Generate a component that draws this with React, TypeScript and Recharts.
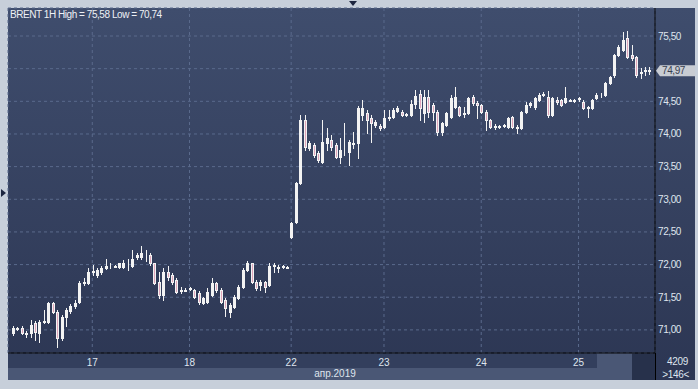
import React from 'react';
import { ComposedChart, Bar, XAxis, YAxis, CartesianGrid, ReferenceLine } from 'recharts';

const opens = [
  70.95, 71.03, 71.03, 70.95, 70.95, 71.11, 70.95, 71.12, 71.12, 71.41,
  71.28, 70.88, 71.20, 71.29, 71.37, 71.43, 71.72, 71.72, 71.89, 71.84,
  71.89, 71.95, 71.98, 71.98, 71.97, 71.97, 72.03, 71.98, 72.11, 72.12,
  72.15, 72.14, 72.02, 71.73, 71.53, 71.89, 71.84, 71.76, 71.61, 71.60,
  71.63, 71.61, 71.56, 71.41, 71.43, 71.53, 71.72, 71.61, 71.46, 71.28,
  71.35, 71.49, 71.66, 71.92, 72.02, 71.73, 71.69, 71.73, 71.69, 71.98,
  71.97, 71.97, 71.97, 72.42, 72.65, 73.25, 74.21, 73.78, 73.83, 73.71,
  73.57, 73.86, 73.91, 73.83, 73.65, 73.76, 73.72, 73.85, 73.86, 74.29,
  74.32, 74.24, 74.14, 74.12, 74.11, 74.25, 74.26, 74.35, 74.34, 74.30,
  74.29, 74.46, 74.61, 74.32, 74.57, 74.44, 74.34, 74.03, 74.14, 74.26,
  74.41, 74.41, 74.31, 74.32, 74.57, 74.47, 74.44, 74.34, 74.21, 74.12,
  74.11, 74.12, 74.11, 74.26, 74.10, 74.09, 74.34, 74.45, 74.41, 74.52,
  74.60, 74.57, 74.29, 74.52, 74.52, 74.49, 74.51, 74.52, 74.53, 74.49,
  74.40, 74.40, 74.55, 74.59, 74.60, 74.78, 74.90, 75.21, 75.29, 75.47,
  75.21, 75.18, 74.94, 74.97, 74.98,
];

const highs = [
  71.06, 71.05, 71.06, 70.98, 71.15, 71.14, 71.15, 71.31, 71.43, 71.43,
  71.31, 71.23, 71.34, 71.40, 71.46, 71.75, 71.80, 71.95, 71.99, 71.95,
  71.98, 72.09, 72.02, 72.00, 72.03, 72.07, 72.09, 72.22, 72.17, 72.28,
  72.22, 72.17, 72.03, 71.89, 71.95, 71.98, 71.87, 71.80, 71.66, 71.64,
  71.66, 71.63, 71.59, 71.50, 71.64, 71.80, 71.73, 71.64, 71.49, 71.41,
  71.53, 71.69, 71.95, 72.06, 72.03, 71.76, 71.76, 71.75, 72.02, 72.02,
  72.00, 72.00, 71.98, 72.65, 73.26, 74.29, 74.29, 73.89, 73.86, 73.74,
  74.21, 74.09, 73.98, 73.86, 73.94, 74.17, 73.91, 74.03, 74.43, 74.52,
  74.37, 74.29, 74.21, 74.15, 74.37, 74.37, 74.40, 74.43, 74.37, 74.32,
  74.52, 74.67, 74.67, 74.67, 74.67, 74.47, 74.37, 74.18, 74.34, 74.60,
  74.72, 74.43, 74.41, 74.57, 74.59, 74.50, 74.46, 74.36, 74.23, 74.15,
  74.14, 74.16, 74.26, 74.27, 74.14, 74.35, 74.49, 74.49, 74.57, 74.63,
  74.64, 74.66, 74.57, 74.56, 74.54, 74.72, 74.54, 74.54, 74.57, 74.52,
  74.43, 74.54, 74.63, 74.62, 74.80, 74.89, 75.23, 75.36, 75.56, 75.58,
  75.36, 75.20, 75.01, 75.03, 75.03,
];

const lows = [
  70.92, 71.00, 70.94, 70.89, 70.89, 70.85, 70.82, 71.11, 71.11, 71.26,
  70.74, 70.85, 71.06, 71.26, 71.34, 71.41, 71.69, 71.70, 71.84, 71.81,
  71.86, 71.93, 71.95, 71.96, 71.95, 71.95, 71.92, 71.97, 72.08, 72.09,
  72.06, 72.00, 71.70, 71.49, 71.46, 71.76, 71.70, 71.56, 71.56, 71.59,
  71.61, 71.49, 71.40, 71.40, 71.41, 71.52, 71.58, 71.41, 71.21, 71.20,
  71.34, 71.47, 71.64, 71.90, 71.72, 71.61, 71.61, 71.58, 71.67, 71.89,
  71.89, 71.95, 71.95, 72.41, 72.64, 73.24, 73.75, 73.75, 73.65, 73.57,
  73.55, 73.75, 73.75, 73.63, 73.55, 73.68, 73.52, 73.78, 73.63, 74.21,
  74.01, 73.88, 74.11, 74.06, 74.09, 74.21, 74.24, 74.34, 74.28, 74.28,
  74.28, 74.40, 74.21, 74.18, 74.26, 74.21, 73.98, 73.99, 74.12, 74.24,
  74.40, 74.27, 74.26, 74.30, 74.45, 74.24, 74.32, 74.06, 74.09, 74.08,
  74.09, 74.10, 74.09, 74.09, 74.02, 74.08, 74.32, 74.42, 74.39, 74.50,
  74.58, 74.26, 74.27, 74.46, 74.43, 74.47, 74.50, 74.49, 74.51, 74.38,
  74.26, 74.38, 74.53, 74.57, 74.58, 74.76, 74.88, 75.19, 75.27, 75.16,
  75.14, 74.88, 74.86, 74.90, 74.92,
];

const closes = [
  71.03, 71.02, 70.95, 70.94, 71.08, 70.97, 71.12, 71.14, 71.41, 71.28,
  70.88, 71.20, 71.31, 71.37, 71.41, 71.72, 71.73, 71.89, 71.90, 71.92,
  71.94, 71.98, 71.98, 71.97, 72.02, 72.03, 72.02, 72.09, 72.14, 72.17,
  72.14, 72.02, 71.72, 71.53, 71.89, 71.81, 71.73, 71.58, 71.60, 71.61,
  71.64, 71.50, 71.43, 71.49, 71.58, 71.72, 71.61, 71.43, 71.34, 71.38,
  71.50, 71.66, 71.92, 72.02, 71.73, 71.64, 71.73, 71.66, 71.98, 71.99,
  71.95, 71.98, 71.95, 72.64, 73.25, 74.21, 73.80, 73.86, 73.68, 73.60,
  73.88, 73.94, 73.80, 73.65, 73.75, 73.75, 73.88, 73.86, 74.40, 74.40,
  74.21, 74.17, 74.18, 74.09, 74.24, 74.26, 74.37, 74.40, 74.29, 74.29,
  74.46, 74.58, 74.40, 74.57, 74.34, 74.34, 74.03, 74.17, 74.32, 74.55,
  74.57, 74.29, 74.32, 74.55, 74.47, 74.44, 74.34, 74.21, 74.11, 74.11,
  74.12, 74.13, 74.24, 74.11, 74.09, 74.34, 74.44, 74.47, 74.55, 74.60,
  74.61, 74.29, 74.55, 74.49, 74.44, 74.55, 74.52, 74.51, 74.55, 74.40,
  74.41, 74.52, 74.60, 74.60, 74.78, 74.87, 75.21, 75.33, 75.44, 75.18,
  75.16, 74.90, 74.95, 74.98, 74.97,
];

const dayTickIndex = [18, 40, 63, 84, 106, 128];
const dayLabels = ['17', '18', '22', '23', '24', '25'];
const priceTicks = [71, 71.5, 72, 72.5, 73, 73.5, 74, 74.5, 75, 75.5];
const lastPrice = 74.97;
const titleText = 'BRENT 1H High = 75,58 Low = 70,74';
const monthLabel = 'апр.2019';
const infoTop = '4209';
const infoBottom = '>146<';

const FONT = '"Liberation Sans", Arial, sans-serif';
const TEXT = '#dfe5ee';
const WICK = '#f3f3f3';
const BEAR = '#e0a5bb';

const data = opens.map((o, i) => ({
  i,
  open: o,
  high: highs[i],
  low: lows[i],
  close: closes[i],
  range: [lows[i], highs[i]],
}));

const fmt = (v: number) => v.toFixed(2).replace('.', ',');

const Candle = (props: any) => {
  const { x, y, width, height, payload } = props;
  if (x == null || y == null) return null;
  const { open, close, high, low } = payload;
  const top = Math.min(y, y + height);
  const h = Math.abs(height);
  const span = high - low;
  const ppu = span > 0 ? h / span : 0;
  const cx = Math.round(x + width / 2) + 0.5;
  const yO = top + (high - open) * ppu;
  const yC = top + (high - close) * ppu;
  const bTop = Math.round(Math.min(yO, yC)) + 0.5;
  const bBot = Math.round(Math.max(yO, yC)) + 0.5;
  const up = close >= open;
  return (
    <g>
      <line x1={cx} x2={cx} y1={Math.round(top)} y2={Math.round(top + h) + 1} stroke={WICK} strokeWidth={1} />
      <rect x={cx - 1} y={bTop} width={2} height={Math.max(bBot - bTop, 0)} fill={up ? 'none' : BEAR} stroke={WICK} strokeWidth={1} />
    </g>
  );
};

const YTick = (props: any) => {
  const { x, y, payload } = props;
  if (Math.abs(payload.value - 75) < 1e-6) return <g />;
  return (
    <text x={x} y={y} dy="0.35em" fill={TEXT} fontSize={10} letterSpacing={-0.4} fontFamily={FONT} textAnchor="start">
      {fmt(payload.value)}
    </text>
  );
};

const XTick = (props: any) => {
  const { x, y, payload } = props;
  const idx = dayTickIndex.indexOf(payload.value);
  return (
    <text x={x} y={y + 9} dy="0.35em" fill={TEXT} fontSize={10} fontFamily={FONT} textAnchor="middle">
      {idx >= 0 ? dayLabels[idx] : ''}
    </text>
  );
};

const PriceLabel = (props: any) => {
  const vb = props.viewBox || {};
  const xr = (vb.x || 0) + (vb.width || 0);
  const yc = vb.y || 0;
  return (
    <g>
      <polygon
        points={`${xr + 1},${yc} ${xr + 5},${yc - 5.5} ${xr + 40},${yc - 5.5} ${xr + 40},${yc + 5.5} ${xr + 5},${yc + 5.5}`}
        fill="#c8ccd3"
      />
      <text x={xr + 7} y={yc} dy="0.35em" fill="#38404f" fontSize={10} letterSpacing={-0.4} fontFamily={FONT}>
        {fmt(lastPrice)}
      </text>
    </g>
  );
};

export default function App() {
  return (
    <div style={{ position: 'absolute', left: 0, top: 0, width: 698, height: 389, background: '#c7cfda', overflow: 'hidden', fontFamily: FONT }}>
      <div style={{ position: 'absolute', left: 8, top: 8, width: 687, height: 372, background: 'linear-gradient(to bottom, #3f4d6d, #2c3653)' }} />
      <div style={{ position: 'absolute', left: 8, top: 353, width: 624, height: 15, background: '#333f5d' }} />
      <div style={{ position: 'absolute', left: 8, top: 368, width: 624, height: 12, background: '#4a5775' }} />
      <div style={{ position: 'absolute', left: 597, top: 353, width: 35, height: 15, background: '#4a5775' }} />
      <div style={{ position: 'absolute', left: 632, top: 353, width: 23, height: 27, background: '#27314b' }} />
      <div style={{ position: 'absolute', left: 655, top: 353, width: 1, height: 27, background: '#000' }} />
      <div style={{ position: 'absolute', left: 349, top: 1, width: 0, height: 0, borderLeft: '4px solid transparent', borderRight: '4px solid transparent', borderTop: '5px solid #1d2640' }} />
      <div style={{ position: 'absolute', left: 1, top: 189, width: 0, height: 0, borderTop: '4px solid transparent', borderBottom: '4px solid transparent', borderLeft: '5px solid #1d2640' }} />
      <div style={{ position: 'absolute', left: 0, top: 0 }}>
        <ComposedChart width={698} height={389} data={data} margin={{ top: 8, right: 8, bottom: 21, left: 8 }}>
          <CartesianGrid stroke="#5a6a8c" strokeDasharray="3 3" />
          <XAxis
            dataKey="i"
            type="category"
            ticks={dayTickIndex}
            interval={0}
            height={15}
            padding={{ left: 2.5, right: 3.6 }}
            axisLine={{ stroke: '#000' }}
            tickLine={false}
            tickSize={0}
            tickMargin={0}
            tick={<XTick />}
          />
          <YAxis
            orientation="right"
            width={35}
            domain={[70.646, 75.929]}
            ticks={priceTicks}
            type="number"
            allowDataOverflow
            axisLine={{ stroke: '#000' }}
            tickLine={false}
            tickSize={0}
            tickMargin={3}
            tick={<YTick />}
          />
          <Bar dataKey="range" isAnimationActive={false} shape={(p: any) => <Candle {...p} />} />
          <ReferenceLine y={lastPrice} stroke="none" label={<PriceLabel />} />
        </ComposedChart>
      </div>
      <div style={{ position: 'absolute', left: 10, top: 8, fontSize: 10, letterSpacing: -0.45, color: '#eef1f5', lineHeight: '13px', whiteSpace: 'nowrap' }}>{titleText}</div>
      <div style={{ position: 'absolute', left: 235, width: 200, top: 368, fontSize: 10, color: TEXT, lineHeight: '12px', textAlign: 'center' }}>{monthLabel}</div>
      <div style={{ position: 'absolute', left: 640, width: 48, top: 355, fontSize: 10, letterSpacing: -0.3, color: TEXT, lineHeight: '13px', textAlign: 'right' }}>{infoTop}</div>
      <div style={{ position: 'absolute', left: 640, width: 49, top: 368, fontSize: 10, letterSpacing: -0.3, color: TEXT, lineHeight: '13px', textAlign: 'right' }}>{infoBottom}</div>
    </div>
  );
}
